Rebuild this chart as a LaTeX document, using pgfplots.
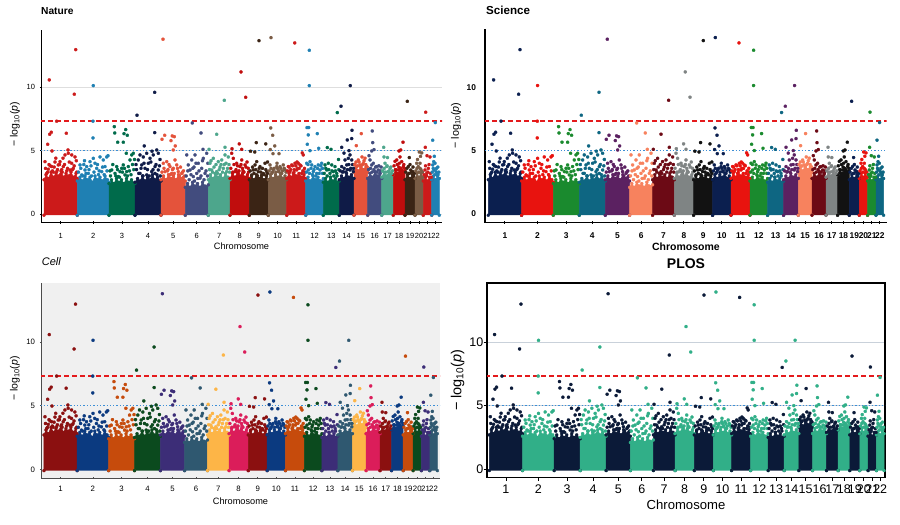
\documentclass[border=0pt]{standalone}
\usepackage{fontspec}
\setmainfont{Liberation Sans}
\usepackage{pgfplots}
\pgfplotsset{compat=1.18}
\usepackage{pgfplotstable}

% round dot as a 12-gon (keeps its round shape when rasterised small)
\pgfdeclareplotmark{rdot}{%
  \pgfpathmoveto{\pgfpointpolar{0}{\pgfplotmarksize}}%
  \pgfpathlineto{\pgfpointpolar{30}{\pgfplotmarksize}}%
  \pgfpathlineto{\pgfpointpolar{60}{\pgfplotmarksize}}%
  \pgfpathlineto{\pgfpointpolar{90}{\pgfplotmarksize}}%
  \pgfpathlineto{\pgfpointpolar{120}{\pgfplotmarksize}}%
  \pgfpathlineto{\pgfpointpolar{150}{\pgfplotmarksize}}%
  \pgfpathlineto{\pgfpointpolar{180}{\pgfplotmarksize}}%
  \pgfpathlineto{\pgfpointpolar{210}{\pgfplotmarksize}}%
  \pgfpathlineto{\pgfpointpolar{240}{\pgfplotmarksize}}%
  \pgfpathlineto{\pgfpointpolar{270}{\pgfplotmarksize}}%
  \pgfpathlineto{\pgfpointpolar{300}{\pgfplotmarksize}}%
  \pgfpathlineto{\pgfpointpolar{330}{\pgfplotmarksize}}%
  \pgfpathclose
  \pgfusepathqfillstroke
}

% ---------- palettes ----------
\definecolor{natc1}{HTML}{CC1A1A}\definecolor{natc2}{HTML}{1F80B3}\definecolor{natc3}{HTML}{006B4B}
\definecolor{natc4}{HTML}{0F1B47}\definecolor{natc5}{HTML}{E4533B}\definecolor{natc6}{HTML}{424C7E}
\definecolor{natc7}{HTML}{4DA68C}\definecolor{natc8}{HTML}{C00D0D}\definecolor{natc9}{HTML}{3B2415}
\definecolor{natc10}{HTML}{7A5C45}
\colorlet{natc11}{natc1}\colorlet{natc12}{natc2}\colorlet{natc13}{natc3}\colorlet{natc14}{natc4}
\colorlet{natc15}{natc5}\colorlet{natc16}{natc6}\colorlet{natc17}{natc7}\colorlet{natc18}{natc8}
\colorlet{natc19}{natc9}\colorlet{natc20}{natc10}\colorlet{natc21}{natc1}\colorlet{natc22}{natc2}

\definecolor{scic1}{HTML}{0B1F4F}\definecolor{scic2}{HTML}{E8130F}\definecolor{scic3}{HTML}{1A8A2E}
\definecolor{scic4}{HTML}{0E6682}\definecolor{scic5}{HTML}{5B2161}\definecolor{scic6}{HTML}{F7825E}
\definecolor{scic7}{HTML}{6C0A15}\definecolor{scic8}{HTML}{7F8484}\definecolor{scic9}{HTML}{121212}
\colorlet{scic10}{scic1}\colorlet{scic11}{scic2}\colorlet{scic12}{scic3}\colorlet{scic13}{scic4}
\colorlet{scic14}{scic5}\colorlet{scic15}{scic6}\colorlet{scic16}{scic7}\colorlet{scic17}{scic8}
\colorlet{scic18}{scic9}\colorlet{scic19}{scic1}\colorlet{scic20}{scic2}\colorlet{scic21}{scic3}
\colorlet{scic22}{scic4}

\definecolor{celc1}{HTML}{8B1010}\definecolor{celc2}{HTML}{0B3A80}\definecolor{celc3}{HTML}{C64B0C}
\definecolor{celc4}{HTML}{0B4A1E}\definecolor{celc5}{HTML}{3C2D77}\definecolor{celc6}{HTML}{2F5870}
\definecolor{celc7}{HTML}{FDB547}\definecolor{celc8}{HTML}{DB1D5A}
\colorlet{celc9}{celc1}\colorlet{celc10}{celc2}\colorlet{celc11}{celc3}\colorlet{celc12}{celc4}
\colorlet{celc13}{celc5}\colorlet{celc14}{celc6}\colorlet{celc15}{celc7}\colorlet{celc16}{celc8}
\colorlet{celc17}{celc1}\colorlet{celc18}{celc2}\colorlet{celc19}{celc3}\colorlet{celc20}{celc4}
\colorlet{celc21}{celc5}\colorlet{celc22}{celc6}

\definecolor{ploa}{HTML}{0B1A38}\definecolor{plob}{HTML}{31AF88}
\colorlet{ploc1}{ploa}\colorlet{ploc2}{plob}\colorlet{ploc3}{ploa}\colorlet{ploc4}{plob}
\colorlet{ploc5}{ploa}\colorlet{ploc6}{plob}\colorlet{ploc7}{ploa}\colorlet{ploc8}{plob}
\colorlet{ploc9}{ploa}\colorlet{ploc10}{plob}\colorlet{ploc11}{ploa}\colorlet{ploc12}{plob}
\colorlet{ploc13}{ploa}\colorlet{ploc14}{plob}\colorlet{ploc15}{ploa}\colorlet{ploc16}{plob}
\colorlet{ploc17}{ploa}\colorlet{ploc18}{plob}\colorlet{ploc19}{ploa}\colorlet{ploc20}{plob}
\colorlet{ploc21}{ploa}\colorlet{ploc22}{plob}

\definecolor{thrred}{HTML}{E41A1C}
\definecolor{sugblue}{HTML}{3D8FD6}
\definecolor{cellbg}{HTML}{F0F0F0}
\definecolor{plogrid}{HTML}{C9D1DA}

% ---------- data: dense lower part of each chromosome (outline of the point cloud) ----------
\pgfplotstableread{
c x y
1 0 -0.1
1 0 2.7
1 2 3.1
1 4.5 2.8
1 7 3.3
1 9.5 2.9
1 12 3.2
1 14.5 3.0
1 17 3.4
1 19.5 2.9
1 22 3.2
1 24.5 3.0
1 27 3.3
1 29.5 2.9
1 32 3.2
1 33.3 2.8
1 33.3 -0.1
2 33.3 -0.1
2 33.3 2.6
2 36 2.9
2 38.5 2.6
2 41 3.0
2 43.5 2.7
2 46 2.9
2 48.5 2.5
2 51 3.0
2 53.5 2.7
2 56 2.9
2 58.5 2.6
2 61 3.0
2 63.5 2.7
2 65 2.5
2 65 -0.1
3 65 -0.1
3 65 2.4
3 67.5 2.7
3 70 2.4
3 72.5 2.8
3 75 2.5
3 77.5 2.7
3 80 2.4
3 82.5 2.8
3 85 2.5
3 87.5 2.7
3 91 2.4
3 91 -0.1
4 91 -0.1
4 91 2.5
4 93.5 2.8
4 96 2.6
4 98.5 3.0
4 101 2.6
4 103.5 2.9
4 106 2.7
4 108.5 3.1
4 111 2.7
4 113.5 2.9
4 117 2.6
4 117 -0.1
5 117 -0.1
5 117 2.7
5 119.5 3.0
5 122 2.7
5 124.5 3.1
5 127 2.8
5 129.5 3.0
5 132 2.7
5 134.5 3.1
5 137 2.8
5 139.5 2.9
5 141.3 2.6
5 141.3 -0.1
6 141.3 -0.1
6 141.3 2.1
6 143.5 2.4
6 146 2.1
6 148.5 2.5
6 151 2.2
6 153.5 2.4
6 156 2.1
6 158.5 2.5
6 161 2.2
6 164.3 2.3
6 164.3 -0.1
7 164.3 -0.1
7 164.3 2.7
7 166.5 3.1
7 169 2.8
7 171.5 3.2
7 174 2.9
7 176.5 3.1
7 179 2.8
7 181.5 3.2
7 184 2.9
7 186 2.7
7 186 -0.1
8 186 -0.1
8 186 2.8
8 188.5 3.2
8 191 2.9
8 193.5 3.3
8 196 3.0
8 198.5 3.2
8 201 2.9
8 203.5 3.1
8 205.3 2.8
8 205.3 -0.1
9 205.3 -0.1
9 205.3 2.7
9 207.5 3.0
9 210 2.7
9 212.5 3.1
9 215 2.8
9 217.5 3.0
9 220 2.7
9 222.5 3.0
9 224.3 2.7
9 224.3 -0.1
10 224.3 -0.1
10 224.3 2.7
10 226.5 3.1
10 229 2.8
10 231.5 3.1
10 234 2.9
10 236.5 3.2
10 239 2.8
10 241 3.0
10 242.7 2.7
10 242.7 -0.1
11 242.7 -0.1
11 242.7 2.8
11 245 3.2
11 247.5 2.9
11 250 3.3
11 252.5 3.0
11 255 3.2
11 257.5 2.9
11 260 3.1
11 261.7 2.8
11 261.7 -0.1
12 261.7 -0.1
12 261.7 2.6
12 264 2.9
12 266.5 2.6
12 269 3.0
12 271.5 2.7
12 274 2.9
12 276.5 2.6
12 279.3 2.8
12 279.3 -0.1
13 279.3 -0.1
13 279.3 2.5
13 281.5 2.8
13 284 2.5
13 286.5 2.9
13 289 2.6
13 291.5 2.8
13 293.5 2.5
13 295.3 2.6
13 295.3 -0.1
14 295.3 -0.1
14 295.3 2.7
14 297.5 3.0
14 300 2.8
14 302.5 3.2
14 305 2.9
14 307.5 3.1
14 310 2.8
14 310 -0.1
15 310 -0.1
15 310 3.3
15 312 3.7
15 314.5 3.4
15 317 3.8
15 319.5 3.5
15 322 3.7
15 323.7 3.3
15 323.7 -0.1
16 323.7 -0.1
16 323.7 2.8
16 326 3.2
16 328.5 2.9
16 331 3.3
16 333.5 3.0
16 336 3.2
16 337.7 2.8
16 337.7 -0.1
17 337.7 -0.1
17 337.7 2.9
17 340 3.3
17 342.5 3.0
17 345 3.3
17 347.5 3.0
17 349.3 3.1
17 349.3 -0.1
18 349.3 -0.1
18 349.3 3.1
18 351.5 3.5
18 354 3.2
18 356.5 3.6
18 359 3.3
18 361 3.4
18 361 -0.1
19 361 -0.1
19 361 2.7
19 363.5 3.1
19 366 2.8
19 368.5 3.1
19 371 2.8
19 371 -0.1
20 371 -0.1
20 371 2.8
20 373 3.2
20 375 2.9
20 377 3.2
20 379.3 2.9
20 379.3 -0.1
21 379.3 -0.1
21 379.3 2.6
21 381.5 2.9
21 383.5 2.6
21 385.5 2.9
21 387.7 2.7
21 387.7 -0.1
22 387.7 -0.1
22 387.7 2.7
22 389.5 3.0
22 391.5 2.7
22 393.5 3.0
22 395.3 2.8
22 395.3 -0.1
}\bands

% ---------- data: individual points above the dense part ----------
\pgfplotstableread{
c x y
1 5.3 10.58
1 31.7 12.97
1 30.3 9.45
1 12.7 7.32
1 7.3 6.45
1 5.7 6.29
1 22.3 6.37
1 3.7 5.5
1 8 4.97
1 24 5.05
1 1 4.13
1 7.7 3.74
1 16 4.13
1 21 4.66
1 24.3 4.79
1 27.7 4.66
1 31 4.5
1 19.3 3.74
1 2.7 3.2
1 12.7 3.34
1 26 3.47
1 29.3 3.6
1 9.3 3.3
1 22.7 3.4
1 17.7 3.5
1 32.7 3.3
1 4.3 3.53
1 14.3 3.87
1 27.7 4.0
1 11 4.1
1 5 3.9
1 19 4.4
1 1.5 3.6
1 3.5 3.3
1 6.2 3.8
1 8.5 3.4
1 10.2 3.7
1 13.5 3.5
1 15.5 3.9
1 18.2 3.3
1 20.5 3.9
1 23.5 3.6
1 25.3 4.1
1 28.5 3.5
1 30.2 3.8
1 32.3 4.2
1 11.8 4.4
2 49.3 10.13
2 49 7.32
2 49 6.0
2 36 3.87
2 41 3.47
2 46 4.13
2 49.3 4.39
2 56 4.5
2 59.3 4.26
2 62.7 4.5
2 44.3 3.2
2 52.7 3.6
2 57.7 3.34
2 37.7 3.08
2 61 3.74
2 51 4.0
2 42.7 3.74
2 64 4.6
2 39 3.0
2 54.5 3.1
2 34.5 3.3
2 36.8 3.6
2 39.8 3.9
2 42 3.2
2 45 3.5
2 47.5 3.0
2 50 3.3
2 53.5 3.9
2 55.2 3.4
2 58.5 3.7
2 60.2 3.1
2 63 3.4
2 40.5 4.2
2 47 3.8
3 70.3 6.89
3 70.7 6.39
3 80 6.34
3 81.7 6.66
3 83.3 6.21
3 73.7 5.66
3 79.3 5.66
3 82.3 4.79
3 67.7 3.47
3 72.7 3.74
3 77.7 3.6
3 82.7 3.34
3 86 4.26
3 87.7 4.66
3 89.3 4.79
3 71 3.2
3 76 3.34
3 81 3.08
3 84.3 3.74
3 79.3 3.87
3 74.3 2.95
3 88.5 3.9
3 66.5 3.0
3 66 3.4
3 68.8 3.9
3 71.8 3.0
3 73.5 3.5
3 75.5 2.9
3 78.5 3.3
3 80.5 3.6
3 83.5 3.0
3 85.5 3.4
3 87 3.1
3 89.8 3.5
3 90.5 4.3
4 93 7.79
4 110.7 9.6
4 110.7 6.42
4 100.3 5.37
4 94.3 4.26
4 96 4.66
4 99.3 4.5
4 102.7 4.79
4 106 4.39
4 109.3 4.66
4 112.7 5.05
4 114.3 4.79
4 97.7 3.87
4 101 3.6
4 104.3 4.0
4 111 3.74
4 107.7 3.34
4 96 3.2
4 114.3 3.47
4 102.7 3.08
4 111 3.2
4 116 4.3
4 108 4.95
4 92.5 3.5
4 92 3.9
4 94.8 3.2
4 97 3.6
4 99 3.0
4 100 4.0
4 103.5 3.5
4 105.2 3.0
4 106.8 4.1
4 109 3.5
4 112 3.9
4 113 3.1
4 115.5 3.8
4 116.3 3.0
5 119 13.79
5 120.7 6.21
5 118 5.89
5 128.3 6.16
5 130.3 6.1
5 127 5.79
5 131.3 5.37
5 129.3 5.05
5 119.3 4.0
5 122.7 4.13
5 126 3.74
5 129.3 3.6
5 132.7 3.87
5 121 3.34
5 127.7 3.2
5 134.3 3.34
5 137.7 3.2
5 131 4.26
5 124 3.5
5 139.5 3.4
5 118 3.3
5 120 3.6
5 123.5 3.4
5 125 3.9
5 126.5 3.1
5 128.5 3.5
5 130.2 3.2
5 133.5 3.6
5 135.5 3.0
5 136.5 3.7
5 138.5 3.3
5 140.5 3.0
6 148.3 7.18
6 157 6.39
6 159 5.1
6 142.7 4.66
6 147.7 4.26
6 151 4.66
6 154.3 4.0
6 159.3 4.39
6 162.7 4.79
6 146 3.47
6 152.7 3.2
6 157.7 3.6
6 161 3.2
6 149.3 2.95
6 144.3 3.87
6 156 2.82
6 150 3.7
6 163.5 3.0
6 142.2 3.0
6 143.8 3.4
6 145.2 2.7
6 147 3.1
6 148.8 3.6
6 150.5 2.6
6 152 4.0
6 153.8 2.8
6 155 3.4
6 157 3.0
6 158.5 4.2
6 160 2.7
6 162 3.4
6 163.8 4.0
7 180.3 8.97
7 172.7 6.29
7 181 5.26
7 166 4.0
7 169.3 4.39
7 174.3 4.13
7 177.7 4.26
7 181 4.66
7 184.3 4.5
7 167.7 3.47
7 172.7 3.34
7 179.3 3.6
7 182.7 3.34
7 171 3.2
7 176 3.7
7 185 3.9
7 165 5.1
7 165.5 3.5
7 167 4.2
7 168.5 3.3
7 170 3.7
7 172 3.9
7 173.5 3.2
7 175.2 3.5
7 177 3.9
7 178.5 3.3
7 180.2 3.9
7 182 4.0
7 183.5 3.6
7 185.5 3.3
8 197 11.21
8 201.7 9.21
8 195.3 5.53
8 197.7 5.1
8 197.7 4.26
8 201 3.87
8 204.3 3.6
8 187.7 4.79
8 189.3 4.39
8 192.7 4.0
8 196 3.74
8 191 3.34
8 194.3 3.2
8 188 5.15
8 199 3.4
8 203 4.1
8 186.8 3.6
8 188.8 3.3
8 190 3.9
8 192 3.5
8 193.5 3.8
8 195 3.4
8 197 3.9
8 198.5 3.6
8 200 3.3
8 202 3.7
8 204.5 3.3
9 215 13.68
9 212.3 5.63
9 221.7 5.53
9 210.7 4.89
9 211 3.87
9 212.7 4.13
9 216 3.74
9 221 4.0
9 209.3 3.47
9 214.3 3.34
9 219.3 3.2
9 222.7 3.34
9 207.7 3.08
9 217.7 3.08
9 206.5 4.95
9 223.5 4.1
9 206.2 3.4
9 208.5 3.7
9 210 3.2
9 211.8 3.5
9 213.5 3.0
9 215.2 3.6
9 216.8 3.3
9 218.5 3.6
9 220.2 3.1
9 221.8 3.5
9 223.5 3.2
10 227 13.92
10 226.7 6.79
10 228.7 6.21
10 230.7 5.37
10 226.3 5.08
10 229 4.76
10 235 4.76
10 226 3.87
10 229.3 3.47
10 232.7 3.74
10 236 3.74
10 239.3 3.87
10 227.7 3.2
10 234.3 3.34
10 237.7 3.2
10 241 3.5
10 233 4.0
10 225.2 3.4
10 227 3.6
10 228.5 3.3
10 230.2 3.6
10 231.8 3.3
10 233.5 3.6
10 235 3.4
10 236.8 3.6
10 238.5 3.4
10 240.2 3.6
10 242 3.3
11 250.7 13.5
11 258.3 4.82
11 259.3 4.66
11 244.3 3.74
11 247.7 3.87
11 251 4.0
11 254.3 4.0
11 256 3.87
11 246 3.34
11 252.7 3.47
11 257.7 3.2
11 249.3 3.2
11 253 4.1
11 260.5 3.6
11 243.5 3.4
11 245.2 3.7
11 246.8 3.5
11 248.5 3.8
11 250.2 3.5
11 251.8 3.8
11 253.5 3.6
11 255.2 3.6
11 257 3.8
11 258.8 3.4
11 260.8 3.3
12 265.3 12.92
12 265.3 10.13
12 263 6.82
12 264.7 6.82
12 264.3 6.24
12 263.3 5.5
12 273.3 6.34
12 274.7 5.18
12 262.7 4.0
12 266 4.13
12 267.7 3.87
12 271 3.74
12 274.3 3.87
12 277.7 4.0
12 264.3 3.47
12 269.3 3.34
12 276 3.47
12 272.7 3.2
12 266 5.0
12 278.5 3.6
12 262.5 3.3
12 264 3.9
12 265.5 3.2
12 267 3.6
12 268.5 3.1
12 270 3.5
12 271.8 3.0
12 273.5 3.6
12 275.2 3.2
12 276.8 3.8
12 278.5 3.2
13 293.3 8.0
13 283.3 5.24
13 287 5.1
13 281 3.87
13 284.3 4.0
13 287.7 3.87
13 291 3.74
13 282.7 3.47
13 289.3 3.34
13 286 3.2
13 292.7 3.2
13 294.5 4.3
13 280.2 3.2
13 281.8 3.6
13 283.2 3.0
13 284.8 3.5
13 286.5 2.9
13 288 3.4
13 289.8 3.0
13 291.5 3.4
13 293 3.0
13 294.8 3.5
14 297 8.5
14 306.3 10.13
14 308 6.6
14 303.3 5.84
14 307.7 5.95
14 297.7 5.26
14 297.7 3.74
14 301 4.26
14 304.3 4.39
14 306 4.66
14 307.7 4.26
14 302.7 3.87
14 299.3 3.34
14 306 3.47
14 309.3 3.34
14 305 5.0
14 300 4.8
14 296.2 3.4
14 298.5 3.3
14 300.2 3.6
14 301.8 3.3
14 303.5 3.5
14 304.8 3.9
14 306.8 3.6
14 308.5 3.9
14 309.5 3.6
15 317.3 6.34
15 312.3 5.39
15 312.7 3.74
15 316 3.87
15 319.3 4.0
15 322.7 3.74
15 314.3 4.26
15 318 4.5
15 321 4.4
15 310.8 3.9
15 312 4.1
15 313.5 3.8
15 315 4.1
15 316.8 3.7
15 318.5 3.9
15 320 4.2
15 321.8 3.9
15 323.2 3.7
16 328.3 6.55
16 328.7 5.63
16 327.7 4.97
16 330 5.08
16 326 4.26
16 327.7 3.87
16 329.3 4.0
16 332.7 3.74
16 334.3 3.47
16 331 3.34
16 336 3.2
16 325 4.6
16 324.5 3.5
16 326.5 3.6
16 328 3.3
16 329.8 3.5
16 331.5 3.7
16 333 3.3
16 334.8 3.8
16 336.5 3.4
16 337.2 3.7
17 339.7 5.26
17 341 4.0
17 342.7 3.74
17 346 3.6
17 344.3 3.34
17 347.7 3.2
17 340 4.5
17 343.5 4.45
17 338.5 3.4
17 340.2 3.6
17 341.8 3.3
17 343.2 3.8
17 345 3.4
17 346.8 3.7
17 348.5 3.4
18 359 5.66
18 355 4.97
18 356.7 5.05
18 352.7 4.26
18 355.3 4.0
18 357.7 4.13
18 359.3 3.74
18 354.3 3.47
18 358.7 3.34
18 351 4.15
18 356 4.5
18 350 3.8
18 351.8 3.5
18 353.2 3.9
18 354.8 3.7
18 356.2 3.6
18 357.5 3.5
18 359.8 3.9
18 360.5 3.6
19 363.3 8.89
19 365.3 4.45
19 364.3 3.74
19 366.7 3.47
19 368.7 3.34
19 365.3 3.2
19 369.5 3.0
19 361.8 3.3
19 363 3.6
19 364.8 3.2
19 366 3.9
19 367.5 3.3
19 369 3.7
19 370.3 3.2
20 375.3 4.89
20 377.7 4.82
20 372.7 4.0
20 374.3 3.74
20 376 3.6
20 377.7 3.34
20 373.5 4.3
20 376.5 4.55
20 371.8 3.4
20 373 3.6
20 374.8 3.3
20 376 4.0
20 377 3.5
20 378.5 3.3
21 381.7 8.03
21 381.3 5.26
21 381 3.47
21 382.7 3.2
21 384.3 3.6
21 383 4.6
21 386 4.5
21 380.2 3.1
21 381.5 3.8
21 382.5 3.0
21 383.8 3.3
21 385 3.9
21 386.5 3.2
21 387.2 2.9
22 391.3 7.21
22 388.7 5.82
22 390.3 4.55
22 389.7 4.13
22 388.7 3.87
22 390 3.47
22 392 3.34
22 393.3 3.2
22 391 4.0
22 394 3.1
22 388.3 3.3
22 389.2 3.6
22 390.8 3.1
22 392.5 3.6
22 393.8 3.7
22 394.8 3.3
}\pts

\newcommand\fsz[1]{\fontsize{#1bp}{#1bp}\selectfont}
\newcommand\ylab{−\hspace{0.25em}log\textsubscript{10}(\textit{p})}

\pgfplotsset{
  chrcls/.style={scatter/classes={1={#1c1},2={#1c2},3={#1c3},4={#1c4},5={#1c5},6={#1c6},
    7={#1c7},8={#1c8},9={#1c9},10={#1c10},11={#1c11},12={#1c12},13={#1c13},14={#1c14},
    15={#1c15},16={#1c16},17={#1c17},18={#1c18},19={#1c19},20={#1c20},21={#1c21},22={#1c22}}},
  mh/.style={scale only axis, anchor=south west,
    xmin=-3, xmax=398, ymin=-0.69, ymax=14.52,
    xtick={16.65,49.15,78,104,129.15,152.8,175.15,195.65,214.8,233.5,252.2,270.5,287.3,302.65,316.85,330.7,343.5,355.15,366,375.15,383.5,391.5},
    xticklabel={\pgfmathparse{int(\ticknum+1)}\pgfmathresult},
    ytick={0,5,10}, yticklabels={0,5,10},
    tick align=outside, major tick length=2.5bp,
    xlabel={Chromosome}, ylabel={\ylab},
    clip=true},
}

\newcommand\drawbands[1]{%
  \pgfplotsinvokeforeach{1,...,22}{%
    \addplot[draw=#1c##1, fill=#1c##1, line width=0.5bp, line join=round, mark=rdot, mark size=1.45bp,
      mark options={draw=#1c##1, fill=#1c##1, line width=0.3bp}, forget plot]
      table[x=x, y=y, restrict expr to domain={\thisrow{c}}{##1:##1}] {\bands};
  }%
}
\newcommand\drawpts[1]{%
  \addplot[scatter, only marks, mark=rdot, mark size=1.5bp, mark options={line width=0.3bp},
    scatter src=explicit symbolic, chrcls=#1, forget plot]
    table[x=x, y=y, meta=c] {\pts};
}
\newcommand\drawthr{%
  \addplot[color=thrred, dash pattern=on 5bp off 3bp, line width=2bp, forget plot] coordinates {(-20,7.3) (420,7.3)};
  \addplot[color=sugblue, dash pattern=on 1.3bp off 2bp, line width=1.5bp, forget plot] coordinates {(-20,5) (420,5)};
}

\begin{document}
\begin{tikzpicture}
\useasboundingbox (0,0) rectangle (900bp,525bp);

% ---------------- Nature ----------------
\begin{axis}[mh, at={(41bp,302.3bp)}, width=401bp, height=192.7bp,
  axis x line=bottom, axis y line=left, axis line style={-, black, line width=0.9bp},
  tick style={black, line width=0.7bp},
  ymajorgrids, grid style={color=black!13, line width=0.7bp},
  tick label style={font=\fsz{7.5}},
  xticklabel style={anchor=center, inner sep=0pt, yshift=-12bp},
  yticklabel style={anchor=east, inner sep=0pt, xshift=-4.5bp},
  every axis x label/.style={at={(axis description cs:0.5,0)}, anchor=center, yshift=-23.5bp, font=\fsz{9.2}},
  every axis y label/.style={at={(axis description cs:0,0.511)}, xshift=-26bp, rotate=90, anchor=center, font=\fsz{10.5}},
  title={Nature}, title style={at={(axis description cs:0,1)}, anchor=west, inner sep=0pt, yshift=13bp, font=\bfseries\fsz{10.2}}]
\drawbands{nat}
\drawpts{nat}
\drawthr
\end{axis}

% ---------------- Science ----------------
\begin{axis}[mh, at={(485bp,302.3bp)}, width=401.7bp, height=193.5bp, xmin=-3.3, xmax=398.4, ymax=14.58,
  axis x line=bottom, axis y line=left, axis line style={-, black, line width=1.5bp},
  tick style={black, line width=1bp},
  tick label style={font=\bfseries\fsz{8.4}},
  xticklabel style={anchor=center, inner sep=0pt, yshift=-12bp},
  yticklabel style={anchor=east, inner sep=0pt, xshift=-7.5bp},
  every axis x label/.style={at={(axis description cs:0.5,0)}, anchor=center, yshift=-24bp, font=\bfseries\fsz{10.5}},
  every axis y label/.style={at={(axis description cs:0,0.503)}, xshift=-29bp, rotate=90, anchor=center, font=\fsz{10.8}},
  title={Science}, title style={at={(axis description cs:0,1)}, anchor=west, inner sep=0pt, xshift=1bp, yshift=13bp, font=\bfseries\fsz{11.6}}]
\drawbands{sci}
\drawpts{sci}
\drawthr
\end{axis}

% ---------------- Cell ----------------
\begin{axis}[mh, at={(41bp,47bp)}, width=399bp, height=195bp, ymin=-0.68, ymax=14.63,
  axis background/.style={fill=cellbg},
  axis x line=bottom, axis y line=left, axis line style={-, black!70, line width=0.8bp},
  tick style={black!70, line width=0.7bp},
  tick label style={font=\fsz{7.8}},
  xticklabel style={anchor=center, inner sep=0pt, yshift=-9.5bp},
  yticklabel style={anchor=east, inner sep=0pt, xshift=-4.5bp},
  every axis x label/.style={at={(axis description cs:0.5,0)}, anchor=center, yshift=-23bp, font=\fsz{9.2}},
  every axis y label/.style={at={(axis description cs:0,0.51)}, xshift=-26bp, rotate=90, anchor=center, font=\fsz{10.5}},
  title={Cell}, title style={at={(axis description cs:0,1)}, anchor=west, inner sep=0pt, xshift=0.7bp, yshift=15.7bp, font=\itshape\fsz{11}}]
\drawbands{cel}
\drawpts{cel}
\drawthr
\end{axis}

% ---------------- PLOS ----------------
\begin{axis}[mh, at={(487bp,47.7bp)}, width=398bp, height=194.3bp, xmin=-2.3, xmax=396.3, ymin=-0.63, ymax=14.63,
  axis line style={black, line width=1.2bp},
  xtick pos=left, ytick pos=left,
  tick style={black, line width=0.8bp}, major tick length=3.5bp,
  ymajorgrids, grid style={color=plogrid, line width=0.8bp},
  tick label style={font=\fsz{12.5}},
  xticklabel style={anchor=center, inner sep=0pt, yshift=-8bp},
  yticklabel style={anchor=east, inner sep=0pt, xshift=0bp},
  every axis x label/.style={at={(axis description cs:0.5,0)}, anchor=center, yshift=-27.7bp, font=\fsz{13.1}},
  every axis y label/.style={at={(axis description cs:0,0.5)}, xshift=-29.5bp, rotate=90, anchor=center, font=\fsz{14.5}},
  title={PLOS}, title style={at={(axis description cs:0.5,1)}, anchor=center, inner sep=0pt, yshift=13.7bp, font=\bfseries\fsz{14}}]
\drawbands{plo}
\drawpts{plo}
\drawthr
\end{axis}
\end{tikzpicture}
\end{document}
